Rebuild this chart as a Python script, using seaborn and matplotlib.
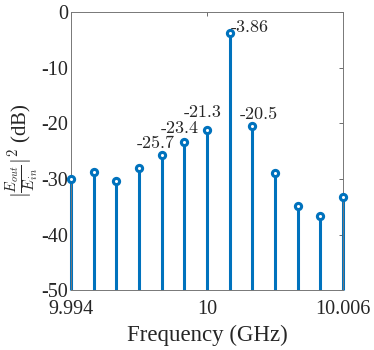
import numpy as np
import pandas as pd
import matplotlib
matplotlib.use("Agg")
import matplotlib.pyplot as plt
import seaborn as sns

# data
freq_ghz = [9.994, 9.995, 9.996, 9.997, 9.998, 9.999, 10.000,
            10.001, 10.002, 10.003, 10.004, 10.005, 10.006]
power_db = [-30.0, -28.7, -30.4, -28.0, -25.7, -23.4, -21.3,
            -3.86, -20.5, -29.0, -34.8, -36.7, -33.3]
labelled = ["-25.7", "-23.4", "-21.3", "-3.86", "-20.5"]
x_ticks = [9.994, 10.0, 10.006]
x_ticklabels = ["9.994", "10", "10.006"]
y_ticks = [0, -10, -20, -30, -40, -50]

# label placement (offset points from the marker, horizontal alignment)
label_pos = {"-25.7": (-4, 5, "center"), "-23.4": (-3.6, 6.5, "center"),
             "-21.3": (-3.2, 9.4, "center"), "-20.5": (5, 5, "center"),
             "-3.86": (0.5, 1, "left")}

df = pd.DataFrame({"f": freq_ghz, "p": power_db})

sns.set_style("white")
plt.rcParams["font.family"] = ["Liberation Serif", "DejaVu Serif"]
plt.rcParams["mathtext.fontset"] = "cm"

blue = "#0072BD"
fig = plt.figure(figsize=(3.74, 3.5), dpi=100)
ax = fig.add_axes([0.19, 0.171, 0.727, 0.795])

# stems from the bottom of the axis, then the markers on top
ax.vlines(df["f"], -50, df["p"], color=blue, lw=2.2, zorder=2, clip_on=False)
sns.scatterplot(data=df, x="f", y="p", ax=ax, marker="o", s=20,
                facecolor="white", edgecolor=blue, linewidth=2.2, zorder=3,
                clip_on=False)

for f, p in zip(freq_ghz, power_db):
    lab = f"{p:.3g}" if abs(p) < 10 else f"{p:.1f}"
    if lab not in labelled:
        continue
    dx, dy, ha = label_pos[lab]
    ax.annotate(lab, (f, p), xytext=(dx, dy), textcoords="offset points",
                ha=ha, va="baseline", fontsize=13, family="cmr10")

ax.set_xlim(9.994, 10.006)
ax.set_ylim(-50, 0)
ax.set_xticks(x_ticks)
ax.set_xticklabels(x_ticklabels)
ax.set_yticks(y_ticks)
ax.set_yticklabels([str(v) for v in y_ticks])
ax.tick_params(direction="in", length=3, width=0.6, color="#555555",
               top=True, right=True, labelsize=14.5)
ax.tick_params(axis="x", pad=7)
ax.tick_params(axis="y", pad=2)
for s in ax.spines.values():
    s.set_color("#777777")
    s.set_linewidth(0.7)

ax.set_xlabel("Frequency (GHz)", fontsize=16.5, labelpad=4)
ax.set_ylabel(r"$|\frac{E_{out}}{E_{in}}|^2$ (dB)", fontsize=15, labelpad=0)

fig.savefig("out.png", dpi=100)
